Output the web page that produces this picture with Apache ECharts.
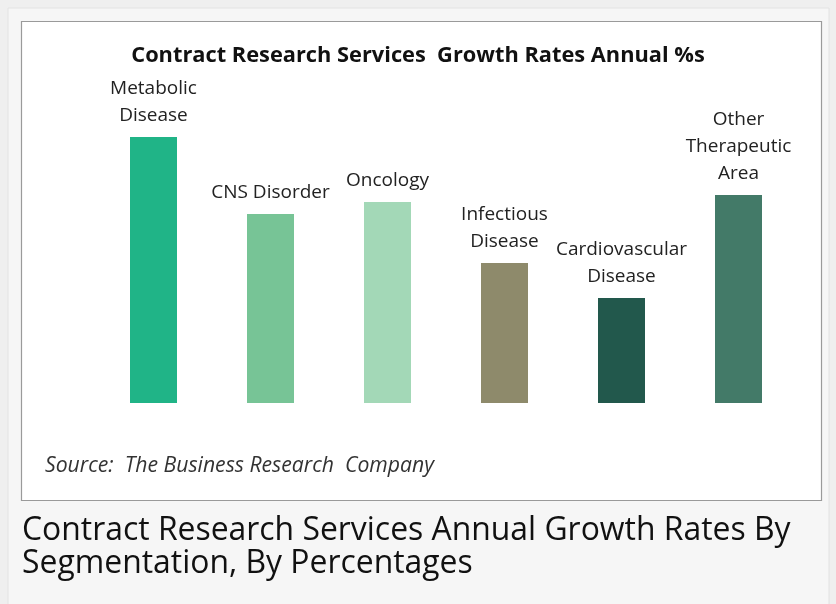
<!DOCTYPE html>
<html>
<head>
<meta charset="utf-8">
<script src="https://cdn.jsdelivr.net/npm/echarts@6/dist/echarts.min.js"></script>
<style>
html,body{margin:0;padding:0;background:#efefef;}
#c{width:836px;height:604px;}
</style>
</head>
<body>
<div id="c"></div>
<script>
const categories = ['Metabolic\nDisease', 'CNS Disorder', 'Oncology', 'Infectious\nDisease', 'Cardiovascular\nDisease', 'Other\nTherapeutic\nArea'];
const values = [26.6, 18.9, 20.1, 14.0, 10.5, 20.8];
const colors = ['#20b487', '#77c496', '#a3d8b7', '#8e8a6b', '#22584c', '#437a68'];
const titleText = 'Contract Research Services  Growth Rates Annual %s';
const sourceText = 'Source:  The Business Research  Company';
const captionLines = ['Contract Research Services Annual Growth Rates By', 'Segmentation, By Percentages'];

const chart = echarts.init(document.getElementById('c'));
chart.setOption({
  backgroundColor: '#efefef',
  animation: false,
  graphic: [
    { type: 'rect', z: -10, shape: { x: 8, y: 8, width: 821, height: 600 }, style: { fill: '#f6f6f6', stroke: '#e2e2e2', lineWidth: 1 } },
    { type: 'rect', z: -9, shape: { x: 21.5, y: 21.5, width: 800, height: 479 }, style: { fill: '#ffffff', stroke: '#9a9a9a', lineWidth: 1.2 } },
    { type: 'text', left: 'center', top: 45, style: { text: titleText, font: 'bold 21.8px "Open Sans"', fill: '#111111', letterSpacing: -0.4 } },
    { type: 'text', left: 45, top: 455, style: { text: sourceText, font: 'italic 21.2px "Open Sans"', fill: '#333333' } },
    { type: 'text', left: 22, top: 514, style: { text: captionLines.join('\n'), font: '31.9px "Open Sans"', lineHeight: 33.5, fill: '#111111' } }
  ],
  grid: { left: 95, right: 39, top: 103, bottom: 201, containLabel: false },
  xAxis: {
    type: 'category', data: categories,
    axisLine: { show: false }, axisTick: { show: false }, axisLabel: { show: false }
  },
  yAxis: {
    type: 'value', min: 0, max: 30, show: false, splitLine: { show: false }
  },
  series: [{
    type: 'bar',
    barWidth: 47,
    data: values.map((v, i) => ({ value: v, itemStyle: { color: colors[i] } })),
    label: {
      show: true, position: 'top', distance: 8,
      formatter: (p) => categories[p.dataIndex],
      fontFamily: 'Open Sans', fontSize: 19, lineHeight: 27, color: '#222222'
    }
  }]
});
</script>
</body>
</html>
